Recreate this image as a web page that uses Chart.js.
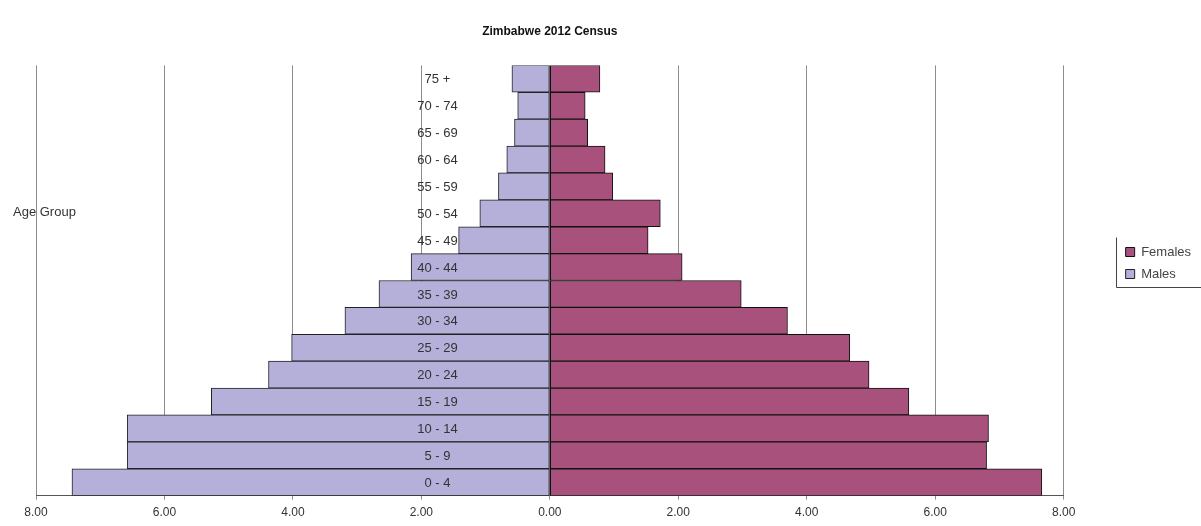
<!DOCTYPE html>
<html>
<head>
<meta charset="utf-8">
<script src="https://cdn.jsdelivr.net/npm/chart.js@4/dist/chart.umd.min.js"></script>
<style>
  html, body { margin: 0; padding: 0; background: #fff; }
  #wrap { width: 1201px; height: 526px; position: relative; }
</style>
</head>
<body>
<div id="wrap"><canvas id="pyramid"></canvas></div>
<script>
// age groups, top to bottom as in the picture
const ageGroups = [
  "75 +", "70 - 74", "65 - 69", "60 - 64", "55 - 59", "50 - 54", "45 - 49",
  "40 - 44", "35 - 39", "30 - 34", "25 - 29", "20 - 24", "15 - 19",
  "10 - 14", "5 - 9", "0 - 4"
];
// percent of population
const females = [0.78, 0.55, 0.59, 0.86, 0.98, 1.72, 1.53, 2.06, 2.98, 3.70, 4.67, 4.97, 5.59, 6.83, 6.80, 7.66];
const males = [0.59, 0.50, 0.55, 0.67, 0.80, 1.09, 1.42, 2.16, 2.66, 3.19, 4.02, 4.38, 5.27, 6.58, 6.58, 7.44];
const xTicks = [-8, -6, -4, -2, 0, 2, 4, 6, 8];

const FEMALE_COLOR = "#a8517c";
const MALE_COLOR = "#b4b0da";
const FONT = "'Liberation Sans', Arial, sans-serif";

// age labels sit inside the plot, left of the centre line, plus "Age Group" caption
const ageLabels = {
  id: "ageLabels",
  afterDatasetsDraw(chart) {
    const { ctx, scales, chartArea } = chart;
    ctx.save();
    ctx.font = "13px " + FONT;
    ctx.fillStyle = "#333";
    ctx.textAlign = "center";
    ctx.textBaseline = "middle";
    const cx = scales.x.getPixelForValue(-1.75);
    ageGroups.forEach((g, i) => {
      ctx.fillText(g, cx, scales.y.getPixelForValue(i) + 1);
    });
    ctx.textAlign = "left";
    ctx.fillText("Age Group", chartArea.left - 23, scales.y.getPixelForValue(5) - 1);
    ctx.restore();
  },
};

// thin frame round the legend items, like the original
const legendFrame = {
  id: "legendFrame",
  afterDraw(chart) {
    const boxes = chart.legend && chart.legend.legendHitBoxes;
    if (!boxes || !boxes.length) return;
    const { ctx } = chart;
    const left = Math.round(boxes[0].left - 10) + 0.5;
    const top = boxes[0].top - 8;
    const bottom = Math.round(boxes[boxes.length - 1].top + boxes[boxes.length - 1].height + 6) + 0.5;
    ctx.save();
    ctx.strokeStyle = "#444";
    ctx.lineWidth = 1;
    ctx.beginPath();
    ctx.moveTo(left, top);
    ctx.lineTo(left, bottom);
    ctx.lineTo(chart.width, bottom);
    ctx.stroke();
    ctx.restore();
  },
};

new Chart(document.getElementById("pyramid"), {
  type: "bar",
  data: {
    labels: ageGroups,
    datasets: [
      {
        label: "Females",
        data: females,
        backgroundColor: FEMALE_COLOR,
        borderColor: "#111",
        borderWidth: 1,
        borderSkipped: false,
      },
      {
        label: "Males",
        data: males.map((v) => -v),
        backgroundColor: MALE_COLOR,
        borderColor: "#222",
        borderWidth: 1,
        borderSkipped: false,
      },
    ],
  },
  options: {
    indexAxis: "y",
    responsive: true,
    maintainAspectRatio: false,
    animation: false,
    layout: { padding: { left: 36, right: 0, top: 0, bottom: 0 } },
    datasets: {
      bar: { barPercentage: 1, categoryPercentage: 1 },
    },
    plugins: {
      title: {
        display: true,
        text: "Zimbabwe 2012 Census",
        fullSize: false,
        color: "#111",
        font: { family: FONT, size: 12, weight: "bold" },
        padding: { top: 24, bottom: 27 },
      },
      legend: {
        position: "right",
        labels: {
          color: "#444",
          boxWidth: 9,
          boxHeight: 9,
          padding: 9,
          font: { family: FONT, size: 13 },
        },
      },
      tooltip: { enabled: false },
    },
    scales: {
      x: {
        stacked: true,
        min: -8,
        max: 8,
        afterBuildTicks: (axis) => {
          axis.ticks = xTicks.map((v) => ({ value: v }));
        },
        ticks: {
          color: "#333",
          padding: 6,
          maxRotation: 0,
          font: { family: FONT, size: 12 },
          callback: (v) => Math.abs(v).toFixed(2),
        },
        grid: { color: "#8c8c8c", lineWidth: 1, tickLength: 4 },
        border: { color: "#555" },
      },
      y: {
        stacked: true,
        display: false,
      },
      // empty spacer between the plot and the legend
      gap: {
        type: "category",
        axis: "y",
        position: "right",
        display: true,
        grid: { display: false },
        border: { display: false },
        ticks: { display: false },
        afterFit: (axis) => {
          axis.width = 53;
        },
      },
    },
  },
  plugins: [ageLabels, legendFrame],
});
</script>
</body>
</html>
